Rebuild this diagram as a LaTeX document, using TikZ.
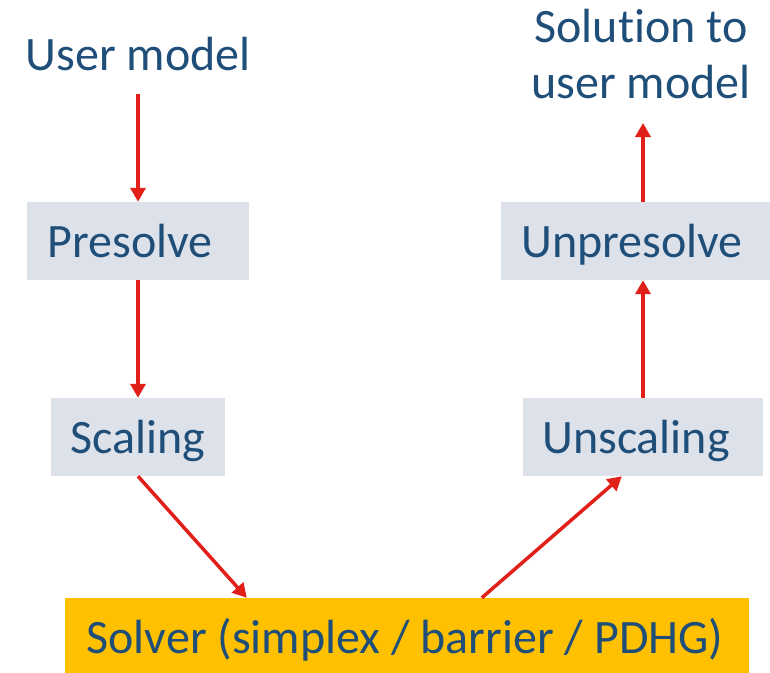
\documentclass[tikz,border=0pt]{standalone}
\usepackage{fontspec}
\setmainfont{Carlito}[Ligatures=NoCommon]
\usetikzlibrary{arrows.meta,calc}
\definecolor{txtblue}{HTML}{1F4E79}
\definecolor{boxgray}{HTML}{DDE1EA}
\definecolor{gold}{HTML}{FFC000}
\definecolor{arrred}{HTML}{E2201A}
\begin{document}
\begin{tikzpicture}[x=1pt,y=1pt,
  lbl/.style={text=txtblue,font=\fontsize{48}{56}\selectfont,inner sep=0pt},
  stepbox/.style={fill=boxgray,draw=none,inner sep=0pt,minimum height=78pt},
  solverbox/.style={fill=gold,draw=none,inner sep=0pt},
  flow/.style={draw=arrred,line width=3.5pt,-{Triangle[length=14pt,width=15pt]}}]
\useasboundingbox (0,0) rectangle (770,-672);
% text-only nodes
\node[lbl,anchor=base] (um) at (138,-70) {User model};
\node[lbl,anchor=base,align=center] (sol) at (641,-98) {Solution to\\user model};
% boxes
\node[stepbox,minimum width=222pt] (pre) at (138,-241) {};
\node[lbl,anchor=base] (pret) at (130,-257) {Presolve};
\node[stepbox,minimum width=174pt] (sca) at (138,-437) {};
\node[lbl,anchor=base] (scat) at (138,-453) {Scaling};
\node[stepbox,minimum width=284pt] (unpre) at (643,-241) {};
\node[lbl,anchor=base] (unpret) at (632,-257) {Unpresolve};
\node[stepbox,minimum width=240pt] (unsca) at (643,-437) {};
\node[lbl,anchor=base] (unscat) at (636,-453) {Unscaling};
\node[solverbox,minimum width=684pt,minimum height=80pt] (solv) at (407,-638) {};
\node[lbl,anchor=base] (solvt) at (405,-653) {Solver (simplex / barrier / PDHG)};
% connectors
\draw[flow] (138,-94) coordinate (umend) -- (pre.north);
\draw[flow] (pre.south) -- (sca.north);
\draw[flow] (sca.south) -- ($(solv.north west)+(182,0)$);
\draw[flow] ($(solv.north west)+(417,0)$) -- ($(unsca.south west)+(99,0)$);
\draw[flow] (unsca.north) -- (unpre.south);
\draw[flow] (unpre.north) -- (643,-123) coordinate (solend);
\end{tikzpicture}
\end{document}
